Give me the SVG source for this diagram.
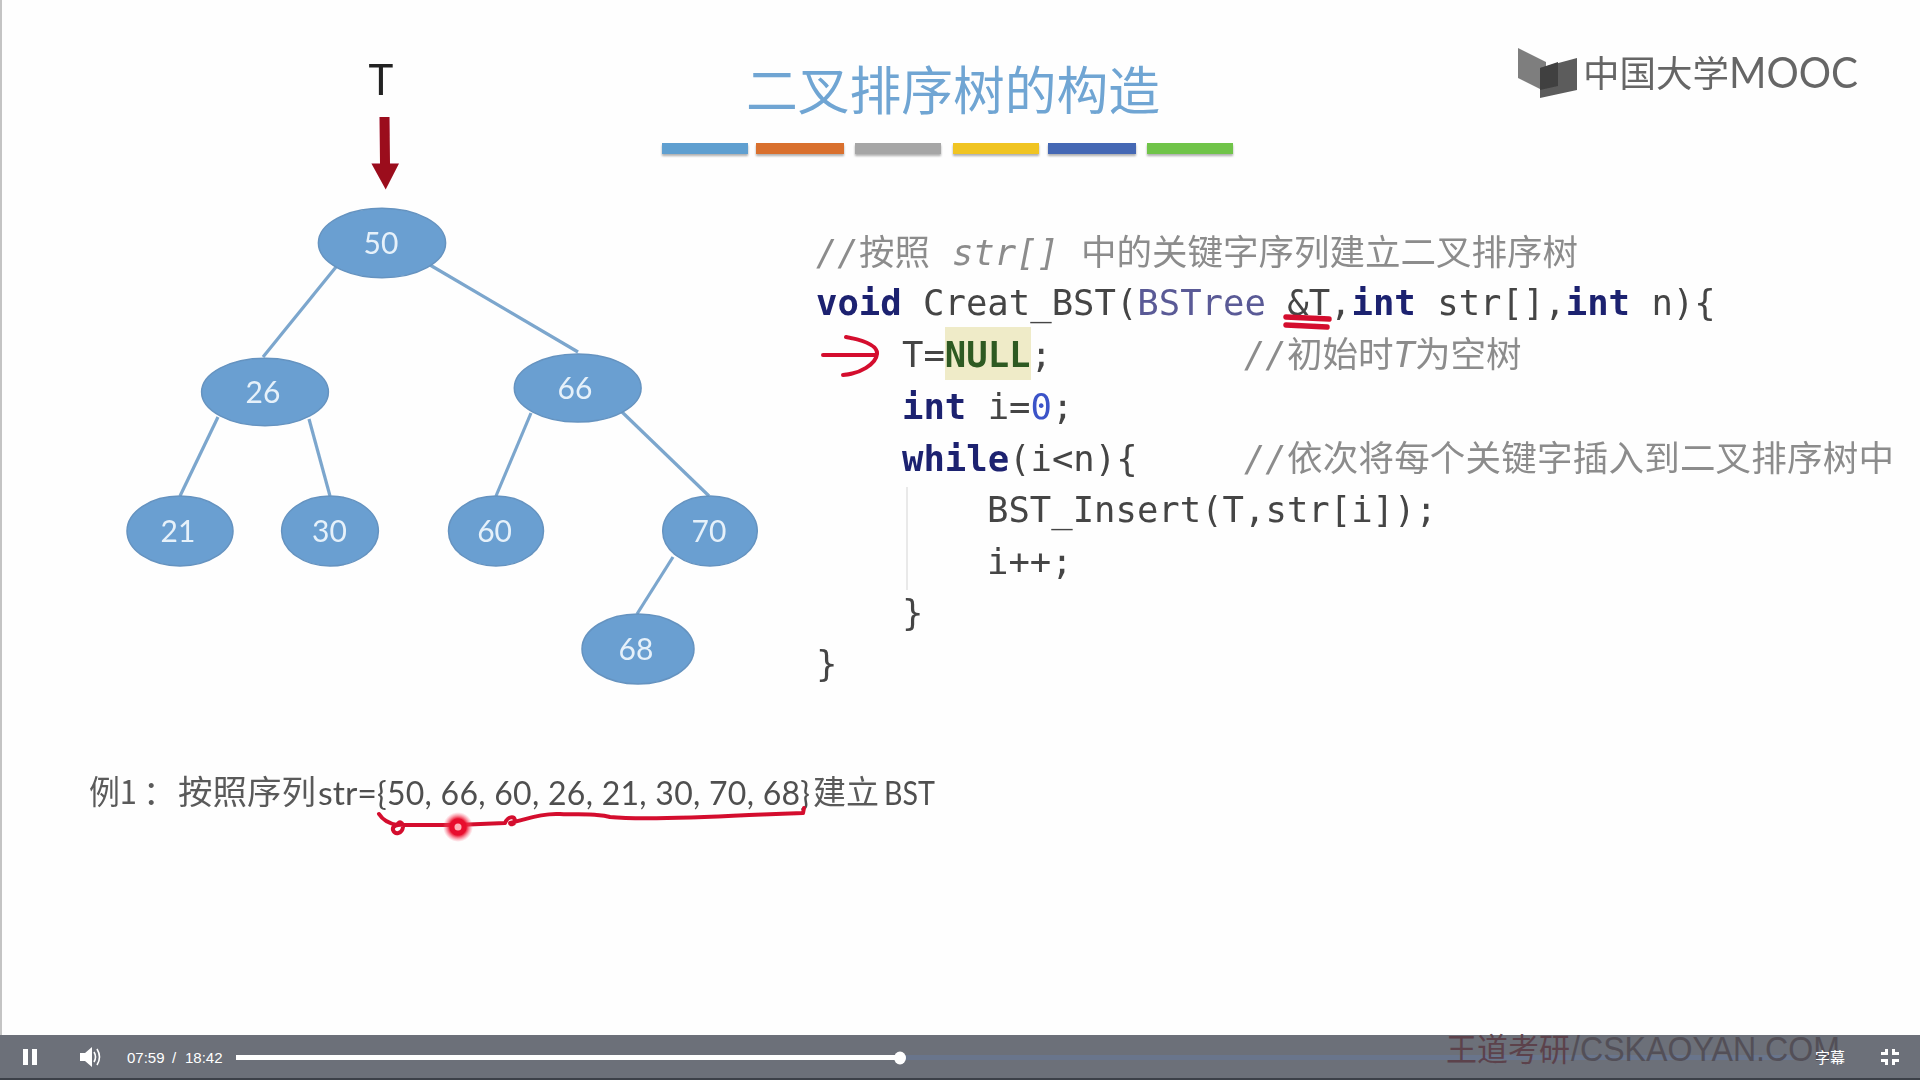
<svg xmlns="http://www.w3.org/2000/svg" width="1920" height="1080" viewBox="0 0 1920 1080">
<style>
.cjk{font-family:"Noto Sans CJK SC","Noto Sans",sans-serif}
.edge{stroke:#7ba6cd;stroke-width:3.2;fill:none}
.node{fill:#6a9fd1;stroke:#6593c0;stroke-width:1.5}
.nt{font-family:Lato,"Open Sans",sans-serif;font-size:30px;fill:#e6f1fa;text-anchor:middle}
.code{font-family:"DejaVu Sans Mono","Noto Sans CJK SC",monospace;font-size:35.6px;fill:#444;white-space:pre}
.kw{font-weight:bold;fill:#1e2070}
.ty{fill:#5a5a96}
.num{fill:#3a52c8}
.nul{fill:#2f5a22;font-weight:bold}
.cm{font-family:"Noto Sans CJK SC",sans-serif;font-size:35.5px;fill:#8c8c8c}
.it{font-family:"DejaVu Sans Mono",monospace;font-style:italic}
.ex{font-family:Lato,"Noto Sans CJK SC",sans-serif;font-size:32px;fill:#505050}
.excjk{font-family:"Noto Sans CJK SC",sans-serif;font-size:33px;fill:#5a5a5a}
.ink{fill:none;stroke:#d4112e;stroke-width:4;stroke-linecap:round;stroke-linejoin:round}
.inkb{stroke-width:5.5}
.ui{font-family:"Liberation Sans",Arial,sans-serif;font-size:15px;fill:#fff}
</style>
<defs>
<radialGradient id="glow"><stop offset="0" stop-color="#e8102e"/><stop offset="0.55" stop-color="#e8102e"/><stop offset="1" stop-color="#ff6a80" stop-opacity="0"/></radialGradient>
<filter id="soft" x="-5%" y="-5%" width="110%" height="110%"><feGaussianBlur stdDeviation="0.7"/></filter>
<filter id="barshadow" x="-5%" y="-50%" width="110%" height="250%"><feDropShadow dx="0" dy="2" stdDeviation="1.2" flood-color="#777" flood-opacity="0.6"/></filter>
</defs>
<rect width="1920" height="1080" fill="#fefefe"/>
<rect x="0" y="0" width="2" height="1035" fill="#c4c4c4"/>
<g filter="url(#soft)">
<g id="title">
<text class="cjk" x="746" y="110" font-size="52" fill="#6fa5d3" textLength="414" lengthAdjust="spacingAndGlyphs">二叉排序树的构造</text>
<g filter="url(#barshadow)">
<rect x="662" y="143" width="86" height="11" fill="#5f9fd0"/>
<rect x="756" y="143" width="88" height="11" fill="#d9702f"/>
<rect x="855" y="143" width="86" height="11" fill="#a6a6a6"/>
<rect x="953" y="143" width="86" height="11" fill="#f0c420"/>
<rect x="1048" y="143" width="88" height="11" fill="#4468b4"/>
<rect x="1147" y="143" width="86" height="11" fill="#70c44a"/>
</g>
</g>
<g id="logo">
<polygon points="1518,48 1546,62 1546,92 1518,78" fill="#7e7e7e"/>
<polygon points="1577,58 1577,90 1540,98 1540,68" fill="#5c5c5c"/>
<polygon points="1540,68 1558,62 1558,86 1540,90" fill="#404040"/>
<text class="cjk" x="1583" y="87" font-size="36.5" fill="#666">中国大学</text>
<text font-family="Lato,'Open Sans',sans-serif" x="1729" y="88" font-size="42" fill="#666" textLength="129" lengthAdjust="spacingAndGlyphs">MOOC</text>
</g>
<g id="connectors">
<line class="edge" x1="336" y1="267" x2="263" y2="357"/>
<line class="edge" x1="430" y1="265" x2="578" y2="352"/>
<line class="edge" x1="218" y1="417" x2="180" y2="496"/>
<line class="edge" x1="309" y1="419" x2="330" y2="496"/>
<line class="edge" x1="531" y1="413" x2="496" y2="496"/>
<line class="edge" x1="622" y1="412" x2="709" y2="496"/>
<line class="edge" x1="673" y1="557" x2="637" y2="614"/>
<polygon points="379.5,117 389.5,117 390,163.6 399,163.6 385.7,189.6 371.4,163.6 380,163.6" fill="#9b0a1f"/>
</g>
<g id="pointer-T"><text font-family="Lato,'Open Sans',sans-serif" x="381" y="95" font-size="42" fill="#222" text-anchor="middle">T</text></g>
<g id="node-50"><ellipse class="node" cx="382" cy="243" rx="63.6" ry="34.7"/><text class="nt" x="381" y="254">50</text></g>
<g id="node-26"><ellipse class="node" cx="265" cy="392" rx="63.4" ry="33.8"/><text class="nt" x="263" y="403">26</text></g>
<g id="node-66"><ellipse class="node" cx="577.7" cy="388" rx="63.4" ry="34"/><text class="nt" x="575" y="399">66</text></g>
<g id="node-21"><ellipse class="node" cx="180" cy="531" rx="53" ry="35"/><text class="nt" x="178" y="542">21</text></g>
<g id="node-30"><ellipse class="node" cx="330" cy="531" rx="48.4" ry="35"/><text class="nt" x="329.5" y="542">30</text></g>
<g id="node-60"><ellipse class="node" cx="496" cy="531" rx="47.5" ry="35"/><text class="nt" x="494.6" y="542">60</text></g>
<g id="node-70"><ellipse class="node" cx="710" cy="531" rx="47.3" ry="35"/><text class="nt" x="709" y="542">70</text></g>
<g id="node-68"><ellipse class="node" cx="638" cy="649" rx="56" ry="35"/><text class="nt" x="636" y="660">68</text></g>
<g id="code">
<rect x="945" y="327" width="86" height="53" fill="#efebc8"/>
<line x1="907" y1="487" x2="907" y2="590" stroke="#e2e2e2" stroke-width="1.5"/>
<text class="cm" y="265"><tspan class="it" x="816">//</tspan><tspan x="859">按照</tspan><tspan class="it" x="952">str[]</tspan><tspan x="1081">中的关键字序列建立二叉排序树</tspan></text>
<text class="code" x="816" y="315"><tspan class="kw">void</tspan> Creat_BST(<tspan class="ty">BSTree</tspan> &amp;T,<tspan class="kw">int</tspan> str[],<tspan class="kw">int</tspan> n){</text>
<text class="code" x="902" y="367">T=<tspan class="nul">NULL</tspan>;</text>
<text class="cm" y="367"><tspan class="it" x="1244">//</tspan><tspan x="1287">初始时</tspan><tspan class="it">T</tspan><tspan>为空树</tspan></text>
<text class="code" x="902" y="419"><tspan class="kw">int</tspan> i=<tspan class="num">0</tspan>;</text>
<text class="code" x="902" y="471"><tspan class="kw">while</tspan>(i&lt;n){</text>
<text class="cm" y="471"><tspan class="it" x="1244">//</tspan><tspan x="1287" textLength="607" lengthAdjust="spacing">依次将每个关键字插入到二叉排序树中</tspan></text>
<text class="code" x="987" y="522">BST_Insert(T,str[i]);</text>
<text class="code" x="987" y="574">i++;</text>
<text class="code" x="902" y="625">}</text>
<text class="code" x="816" y="676">}</text>
</g>
<g id="example">
<text class="excjk" x="89" y="804" textLength="48" lengthAdjust="spacingAndGlyphs">例1</text>
<text class="excjk" x="143" y="804">：</text>
<text class="excjk" x="178" y="804" textLength="138" lengthAdjust="spacingAndGlyphs">按照序列</text>
<text class="ex" x="318" y="805" textLength="59" lengthAdjust="spacingAndGlyphs">str=</text>
<text class="ex" x="377" y="805" textLength="433" lengthAdjust="spacing">{50, 66, 60, 26, 21, 30, 70, 68}</text>
<text class="excjk" x="813" y="804" textLength="66" lengthAdjust="spacingAndGlyphs">建立</text>
<text class="ex" x="884" y="805" textLength="51" lengthAdjust="spacingAndGlyphs">BST</text>
</g>
<g id="annotations">
<path class="ink" d="M823,355 L876,355 M846,337 C862,340 878,345 877,354 C876,364 860,374 843,375"/>
<path class="ink inkb" d="M1286,317 L1329,319 M1286,325 L1327,327"/>
<path class="ink" d="M379,814 C384,822 392,824 397,825 C400,820 403,823 403,827 C402,834 395,835 393,830 C392,826 397,824 404,825 L456,825 L505,823 C508,816 514,816 515,820 C515,825 510,825 510,823 C530,818 545,813 560,814 C580,815 595,813 610,817 C640,820 690,818 749,815 L803,813 L804,808"/>
<circle cx="458" cy="827" r="15" fill="url(#glow)"/>
<circle cx="458" cy="827" r="3.5" fill="#ffb0b8"/>
</g>
</g>
<g id="player">
<rect x="0" y="1035" width="1920" height="45" fill="#6c7079"/>
<rect x="0" y="1078" width="1920" height="2" fill="#3c4048"/>
<rect x="900" y="1055" width="894" height="5" fill="#69758c"/>
<g opacity="0.85">
<text class="cjk" x="1446" y="1061" font-size="32" fill="#5a3a44" textLength="124" lengthAdjust="spacingAndGlyphs">王道考研</text>
<text font-family="'Liberation Sans',Arial,sans-serif" x="1571" y="1061" font-size="35" fill="#4f4a52" textLength="269" lengthAdjust="spacingAndGlyphs">/CSKAOYAN.COM</text>
</g>
<rect x="23" y="1049" width="5" height="16" fill="#fff"/>
<rect x="32" y="1049" width="5" height="16" fill="#fff"/>
<polygon points="80,1053 85,1053 92,1047 92,1067 85,1061 80,1061" fill="#fff"/>
<path d="M94,1052 Q97,1057 94,1062 M97,1049 Q102,1057 97,1065" stroke="#fff" stroke-width="1.6" fill="none"/>
<text class="ui" x="127" y="1063">07:59</text><text class="ui" x="172" y="1063">/</text><text class="ui" x="185" y="1063">18:42</text>
<rect x="236" y="1055" width="664" height="5" fill="#fff"/>
<ellipse cx="900" cy="1058" rx="6" ry="6.5" fill="#fff"/>
<text class="cjk" x="1815" y="1063" font-size="15" fill="#fff">字幕</text>
<path d="M1886.5,1049 V1053.5 H1881 M1893.5,1049 V1053.5 H1899 M1886.5,1065 V1060.5 H1881 M1893.5,1065 V1060.5 H1899" stroke="#fff" stroke-width="3" fill="none"/>
</g>
</svg>
